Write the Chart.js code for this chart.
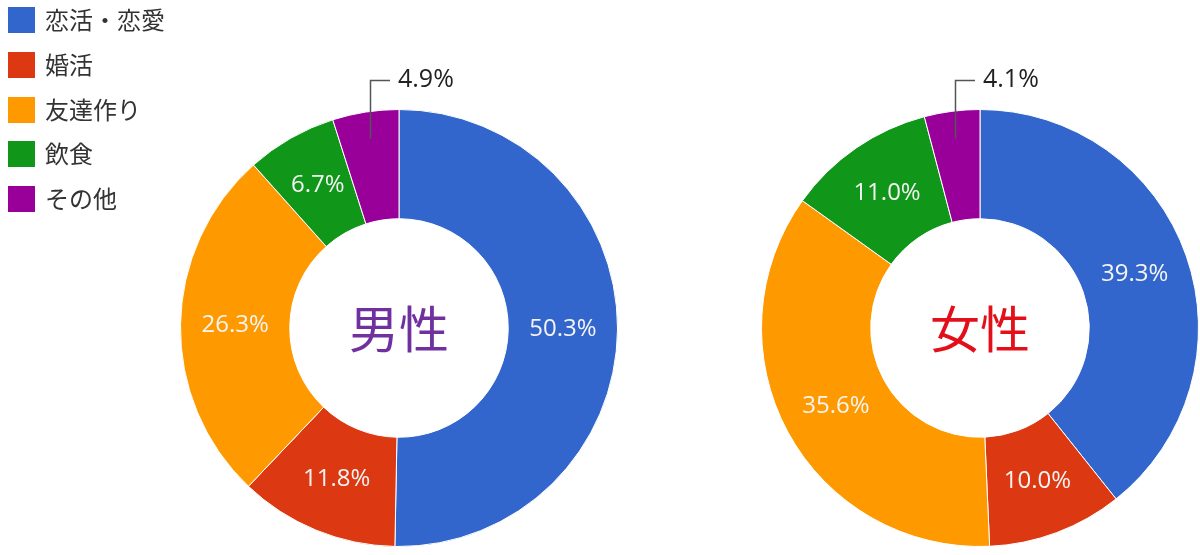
<!DOCTYPE html>
<html><head><meta charset="utf-8">
<script src="https://cdn.jsdelivr.net/npm/chart.js@4/dist/chart.umd.min.js"></script>
<style>
html,body{margin:0;padding:0;background:#fff;width:1200px;height:555px;overflow:hidden;}
#wrap{position:relative;width:1200px;height:555px;}
canvas{position:absolute;top:0;}
#legend{position:absolute;left:0;top:0;z-index:2;font-family:"Noto Sans CJK JP","Noto Sans CJK SC",sans-serif;font-size:24px;color:#333;}
.row{position:absolute;left:8px;height:27px;white-space:nowrap;}
.sw{position:absolute;left:0;top:0;width:27px;height:26px;}
.tx{position:absolute;left:37px;top:-4px;line-height:32px;}
</style></head>
<body><div id="wrap">
<canvas id="c1" width="640" height="555" style="left:0px"></canvas>
<canvas id="c2" width="560" height="555" style="left:640px"></canvas>
<div id="legend"></div>
</div>
<script>
const categories = ['恋活・恋愛', '婚活', '友達作り', '飲食', 'その他'];
const maleValues = [50.3, 11.8, 26.3, 6.7, 4.9];
const femaleValues = [39.3, 10.0, 35.6, 11.0, 4.1];
const sliceColors = ['#3366CC', '#DC3912', '#FF9900', '#109618', '#990099'];
const centerTitles = ['男性', '女性'];
const titleColors = ['#7030A0', '#E3101A'];

// HTML legend built from categories
const lg = document.getElementById('legend');
categories.forEach((c, i) => {
  const r = document.createElement('div');
  r.className = 'row';
  r.style.top = (7 + i * 44.8) + 'px';
  const s = document.createElement('div');
  s.className = 'sw'; s.style.background = sliceColors[i];
  const t = document.createElement('div');
  t.className = 'tx'; t.textContent = c;
  r.appendChild(s); r.appendChild(t); lg.appendChild(r);
});

const labelPlugin = {
  id: 'sliceLabels',
  afterDatasetsDraw(chart) {
    const ctx = chart.ctx;
    const meta = chart.getDatasetMeta(0);
    const vals = chart.data.datasets[0].data;
    ctx.save();
    meta.data.forEach((arc, i) => {
      const v = vals[i];
      const txt = v.toFixed(1) + '%';
      if (v >= 6) {
        const p = arc.getCenterPoint();
        ctx.font = '24px "Open Sans", sans-serif';
        ctx.fillStyle = '#F4F4F4';
        ctx.textAlign = 'center';
        ctx.textBaseline = 'middle';
        ctx.fillText(txt, p.x, p.y);
      } else {
        const mid = (arc.startAngle + arc.endAngle) / 2;
        const r0 = arc.innerRadius + (arc.outerRadius - arc.innerRadius) * 0.75;
        const x0 = arc.x + Math.cos(mid) * r0;
        const y0 = arc.y + Math.sin(mid) * r0;
        const yTop = arc.y - arc.outerRadius - 29;
        ctx.strokeStyle = '#555';
        ctx.lineWidth = 1.5;
        ctx.beginPath();
        ctx.moveTo(Math.round(x0) + 0.5, y0);
        ctx.lineTo(Math.round(x0) + 0.5, yTop);
        ctx.lineTo(Math.round(x0) + 20, yTop);
        ctx.stroke();
        ctx.font = '25px "Open Sans", sans-serif';
        ctx.fillStyle = '#222';
        ctx.textAlign = 'left';
        ctx.textBaseline = 'middle';
        ctx.fillText(txt, Math.round(x0) + 28, yTop - 1);
      }
    });
    const ca = chart.chartArea;
    const idx = chart.options.plugins.centerTitle.index;
    ctx.font = '50px "Noto Sans CJK JP", sans-serif';
    ctx.fillStyle = titleColors[idx];
    ctx.textAlign = 'center';
    ctx.textBaseline = 'middle';
    ctx.fillText(centerTitles[idx], (ca.left + ca.right) / 2, (ca.top + ca.bottom) / 2 + 1);
    ctx.restore();
  }
};

function makeChart(id, values, idx, pad) {
  return new Chart(document.getElementById(id), {
    type: 'doughnut',
    data: {
      labels: categories,
      datasets: [{
        data: values,
        backgroundColor: sliceColors,
        borderColor: '#ffffff',
        borderWidth: 1,
        hoverOffset: 0
      }]
    },
    options: {
      responsive: false,
      animation: false,
      cutout: '50%',
      layout: { padding: pad },
      plugins: {
        legend: { display: false },
        tooltip: { enabled: false },
        centerTitle: { index: idx }
      }
    },
    plugins: [labelPlugin]
  });
}

makeChart('c1', maleValues, 0, { left: 180, top: 109, right: 22, bottom: 8 });
makeChart('c2', femaleValues, 1, { left: 121, top: 109, right: 1, bottom: 8 });
</script>
</body></html>
